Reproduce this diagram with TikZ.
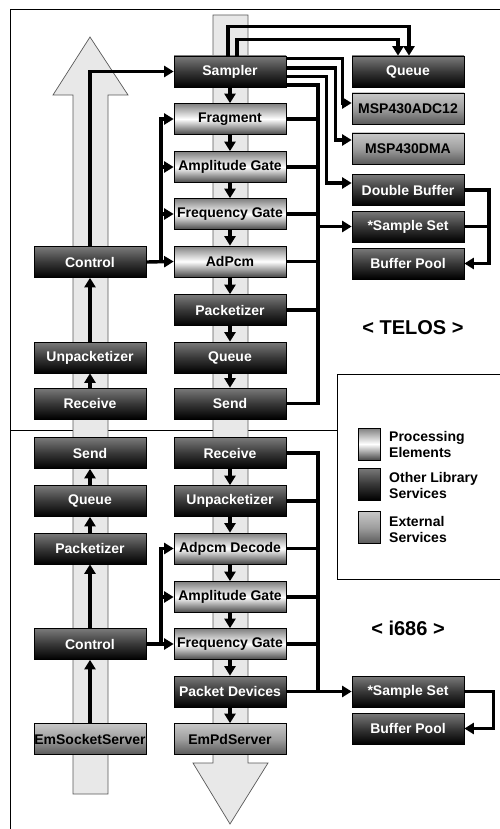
\documentclass[tikz,border=0pt]{standalone}
\usepackage{fontspec}
\setmainfont{Liberation Sans}
\usetikzlibrary{calc, arrows.meta}

\begin{document}
\begin{tikzpicture}[x=1pt, y=-1pt,
  box/.style={minimum width=112pt, minimum height=31pt, inner sep=0pt, draw=black, line width=0.7pt, font=\fontsize{14}{16}\selectfont\bfseries},
  libbox/.style={box, top color=black!52, bottom color=black, middle color=black!78, text=white},
  procbox/.style={box, top color=black!50, bottom color=black!72, middle color=white},
  extbox/.style={box, top color=black!22, bottom color=black!65, middle color=black!38},
  flow/.style={draw=black!65, fill=black!9, line width=0.7pt},
  wire/.style={line width=3.4pt},
  arr/.style={wire, -{Triangle[length=9.5pt, width=11pt]}},
  title/.style={font=\fontsize{20}{24}\selectfont\bfseries},
  legtext/.style={anchor=west, inner sep=0pt, align=left, font=\fontsize{14}{16}\selectfont\bfseries}]
\useasboundingbox (0,0) rectangle (500,829);

% frame, divider and legend box
\draw[line width=0.8pt] (500,9) -- (10,9) -- (10,829);
\draw[line width=0.8pt] (10,430) -- (337,430);
\draw[line width=0.8pt] (500,374) -- (337,374) -- (337,579) -- (500,579);

% big flow arrows
\draw[flow] (73,794) -- (73,95) -- (53,95) -- (90,37) -- (128,95) -- (108,95) -- (108,794) -- cycle;
\draw[flow] (213,15) -- (248,15) -- (248,763) -- (268,763) -- (230,824) -- (193,763) -- (213,763) -- cycle;

% TELOS, middle column
\node[libbox] (samp) at (230,71.5) {Sampler};
\node[procbox] (frag) at (230,119) {Fragment};
\node[procbox] (ampT) at (230,167) {Amplitude Gate};
\node[procbox] (freqT) at (230,214) {Frequency Gate};
\node[procbox] (adpcm) at (230,261.5) {AdPcm};
\node[libbox] (pktT) at (230,310) {Packetizer};
\node[libbox] (queT) at (230,357.5) {Queue};
\node[libbox] (sendT) at (230,403.5) {Send};

% TELOS, left column
\node[libbox] (ctlT) at (90,262) {Control};
\node[libbox] (unpkT) at (90,357.5) {Unpacketizer};
\node[libbox] (recvT) at (90,403.5) {Receive};

% TELOS, right column
\node[libbox] (queX) at (408,71.5) {Queue};
\node[extbox] (adc) at (408,108.5) {MSP430ADC12};
\node[extbox] (dma) at (408,148.5) {MSP430DMA};
\node[libbox] (dbuf) at (408,190) {Double Buffer};
\node[libbox] (ssetT) at (408,226.5) {*Sample Set};
\node[libbox] (bpoolT) at (408,263.5) {Buffer Pool};

% i686, middle column
\node[libbox] (recvL) at (230,453) {Receive};
\node[libbox] (unpkL) at (230,501) {Unpacketizer};
\node[procbox] (adec) at (230,548.5) {Adpcm Decode};
\node[procbox] (ampL) at (230,597) {Amplitude Gate};
\node[procbox] (freqL) at (230,644) {Frequency Gate};
\node[libbox] (pdev) at (230,691.5) {Packet Devices};
\node[extbox] (empd) at (230,739) {EmPdServer};

% i686, left column
\node[libbox] (sendL) at (90,453) {Send};
\node[libbox] (queL) at (90,501) {Queue};
\node[libbox] (pktL) at (90,548.5) {Packetizer};
\node[libbox] (ctlL) at (90,644) {Control};
\node[extbox] (emsock) at (90,739) {EmSocketServer};

% i686, right column
\node[libbox] (ssetL) at (408,691.5) {*Sample Set};
\node[libbox] (bpoolL) at (408,728.5) {Buffer Pool};

\node[title] (telos) at (413,328) {< TELOS >};
\node[title] (i686) at (408,628) {< i686 >};

% legend
\node[procbox, minimum width=22pt, minimum height=32pt] (lgP) at (369,444) {};
\node[libbox, minimum width=22pt, minimum height=32pt] (lgL) at (369,484) {};
\node[extbox, minimum width=22pt, minimum height=32pt] (lgE) at (369,527.5) {};
\node[legtext] at (389,444) {Processing\\Elements};
\node[legtext] at (389,485) {Other Library\\Services};
\node[legtext] at (389,529) {External\\Services};

% chains
\foreach \a/\b in {samp/frag, frag/ampT, ampT/freqT, freqT/adpcm, adpcm/pktT, pktT/queT, queT/sendT,
                   recvL/unpkL, unpkL/adec, adec/ampL, ampL/freqL, freqL/pdev, pdev/empd}
  \draw[arr] (\a.south) -- (\b.north);
\foreach \a/\b in {recvT/unpkT, unpkT/ctlT, queL/sendL, pktL/queL, ctlL/pktL, emsock/ctlL}
  \draw[arr] (\a.north) -- (\b.south);

% control fan-out, TELOS
\coordinate (busA) at (161,262);
\draw[arr] (ctlT.north) |- (samp.west);
\draw[arr] (ctlT.east) -- (adpcm.west);
\draw[arr] (busA) |- (frag.west);
\foreach \n in {ampT, freqT}
  \draw[arr] (busA |- \n) -- (\n.west);

% control fan-out, i686
\coordinate (busB) at (161,644);
\draw[arr] (ctlL.east) -- (freqL.west);
\draw[arr] (busB) |- (adec.west);
\draw[arr] (busB |- ampL) -- (ampL.west);

% sampler to the services
\draw[arr] ($(samp.north)+(-2,0)$) -- ++(0,-29) -| ($(queX.north)+(1,0)$);
\draw[arr] ($(samp.north)+(7,0)$) -- ++(0,-16) -| ($(queX.north)+(-10,0)$);
\draw[arr] ($(samp.east)+(0,-13)$) -| ($(adc.west)+(-9,-5.5)$) -- ($(adc.west)+(0,-5.5)$);
\draw[arr] ($(samp.east)+(0,-3.5)$) -| ($(dma.west)+(-16,-8.5)$) -- ($(dma.west)+(0,-8.5)$);
\draw[arr] ($(samp.east)+(0,5)$) -| ($(dbuf.west)+(-25,-7)$) -- ($(dbuf.west)+(0,-7)$);

% TELOS collector bus
\coordinate (busC) at (318,403.5);
\draw[wire] ($(samp.east)+(0,13.5)$) -| (busC) -- (sendT.east);
\foreach \n in {frag, ampT, freqT, adpcm, pktT}
  \draw[wire] (\n.east) -- (\n.east -| busC);
\draw[arr] (busC |- ssetT) -- (ssetT.west);
\coordinate (busD) at (489,263.5);
\draw[arr] (dbuf.east) -| (busD) -- (bpoolT.east);
\draw[wire] (ssetT.east) -- (ssetT.east -| busD);

% i686 collector bus
\coordinate (busE) at (318,691.5);
\draw[arr] (pdev.east) -- (ssetL.west);
\draw[wire] (recvL.east) -| (busE);
\foreach \n in {unpkL, adec, ampL, freqL}
  \draw[wire] (\n.east) -- (\n.east -| busE);
\draw[arr] (ssetL.east) -- ++(29,0) |- (bpoolL.east);
\end{tikzpicture}
\end{document}
